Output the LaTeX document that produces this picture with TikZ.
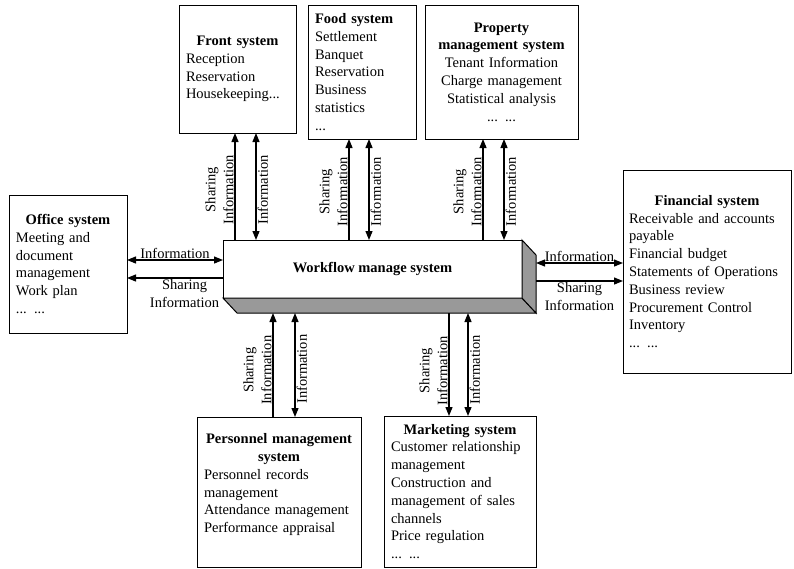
\documentclass[tikz,border=0pt]{standalone}
\usepackage{fontspec}
\setmainfont{Liberation Serif}
\usepackage{tikz}
\usetikzlibrary{arrows.meta, positioning}

\newcommand{\systitle}[1]{\hfill\textbf{#1}\hfill\null}

\begin{document}
\begin{tikzpicture}[
   x = 1pt, y = -1pt,
   >={Triangle[length=9pt, width=7pt]},
   every node/.style = {font=\fontsize{14.5pt}{17.8pt}\selectfont},
   sysbox/.style = {draw, line width=1pt, anchor=north west, inner xsep=7pt, inner ysep=0pt, outer sep=0pt, align=left},
   link/.style = {line width=1.2pt},
   share/.style = {link, ->},
   info/.style = {link, <->},
   sharelbl/.style = {rotate=90, anchor=south, align=center, inner sep=1pt},
   infolbl/.style = {rotate=90, anchor=north, inner sep=1pt}]
   \useasboundingbox (0,0) rectangle (794,568);

   \node[sysbox, minimum width=117pt, minimum height=128pt, text width=103pt] (front) at (179,5)
      {\systitle{Front system}\\ Reception\\ Reservation\\ Housekeeping...};
   \node[sysbox, minimum width=108pt, minimum height=134pt, text width=94pt] (food) at (308,5)
      {\textbf{Food system}\\ Settlement\\ Banquet\\ Reservation\\ Business\\ statistics\\ ...};
   \node[sysbox, align=center, minimum width=153pt, minimum height=134pt, text width=139pt] (prop) at (425,5)
      {\textbf{Property}\\ \textbf{management system}\\ Tenant Information\\ Charge management\\ Statistical analysis\\ ... ...};
   \node[sysbox, minimum width=118pt, minimum height=138pt, text width=104pt] (office) at (9,195)
      {\systitle{Office system}\\ Meeting and\\ document\\ management\\ Work plan\\ ... ...};
   \node[sysbox, inner xsep=6pt, minimum width=168pt, minimum height=203pt, text width=156pt] (fin) at (623,170)
      {\systitle{Financial system}\\ Receivable and accounts\\ payable\\ Financial budget\\ Statements of Operations\\ Business review\\ Procurement Control\\ Inventory\\ ... ...};
   \node[sysbox, minimum width=164pt, minimum height=150pt, text width=150pt] (pers) at (197,417)
      {\systitle{Personnel management}\\ \systitle{system}\\ Personnel records\\ management\\ Attendance management\\ Performance appraisal\\ \mbox{}};
   \node[sysbox, minimum width=152pt, minimum height=151pt, text width=138pt] (mark) at (384,416)
      {\systitle{Marketing system}\\ Customer relationship\\ management\\ Construction and\\ management of sales\\ channels\\ Price regulation\\ ... ...};

   \node[draw, line width=1pt, fill=white, anchor=north west, minimum width=299pt, minimum height=58pt, outer sep=0pt] (wf) at (223,240)
      {\textbf{Workflow manage system}};
   \draw[line width=1pt, fill=black!40] (wf.south west) -- (wf.south east) -- ++(14,15) -- ++(-299,0) -- cycle;
   \draw[line width=1pt, fill=black!40] (wf.north east) -- ++(14,15) -- ++(0,58) -- (wf.south east) -- cycle;
   \coordinate (wfb) at ([yshift=-15pt]wf.south);
   \coordinate (wfr) at ([xshift=14pt]wf.east);

   \draw[share] (235,0 |- wf.north) -- node[sharelbl, pos=0.47] {Sharing\\Information} (235,0 |- front.south);
   \draw[info] (256,0 |- wf.north) -- node[infolbl, pos=0.47] {Information} (256,0 |- front.south);
   \draw[share] (349,0 |- wf.north) -- node[sharelbl, pos=0.48] {Sharing\\Information} (349,0 |- food.south);
   \draw[info] (369,0 |- wf.north) -- node[infolbl, pos=0.48] {Information} (369,0 |- food.south);
   \draw[share] (483,0 |- wf.north) -- node[sharelbl, pos=0.48] {Sharing\\Information} (483,0 |- prop.south);
   \draw[info] (504,0 |- wf.north) -- node[infolbl, pos=0.48] {Information} (504,0 |- prop.south);

   \draw[info] (office.east |- 0,260) -- node[above, inner sep=1pt] {Information} (wf.west |- 0,260);
   \draw[share] (wf.west |- 0,278) -- node[below, inner sep=1pt, align=center, pos=0.4] {Sharing\\Information} (office.east |- 0,278);

   \draw[info] (wfr |- 0,263) -- node[above, inner sep=1pt] {Information} (fin.west |- 0,263);
   \draw[share] (wfr |- 0,281) -- node[below, inner sep=1pt, align=center] {Sharing\\Information} (fin.west |- 0,281);

   \draw[share] (273,0 |- pers.north) -- node[sharelbl, pos=0.45] {Sharing\\Information} (273,0 |- wfb);
   \draw[info] (295,0 |- wfb) -- node[infolbl, pos=0.54] {Information} (295,0 |- pers.north);
   \draw[share] (449,0 |- wfb) -- node[sharelbl, pos=0.56] {Sharing\\Information} (449,0 |- mark.north);
   \draw[info] (468,0 |- wfb) -- node[infolbl, pos=0.55] {Information} (468,0 |- mark.north);
\end{tikzpicture}
\end{document}
